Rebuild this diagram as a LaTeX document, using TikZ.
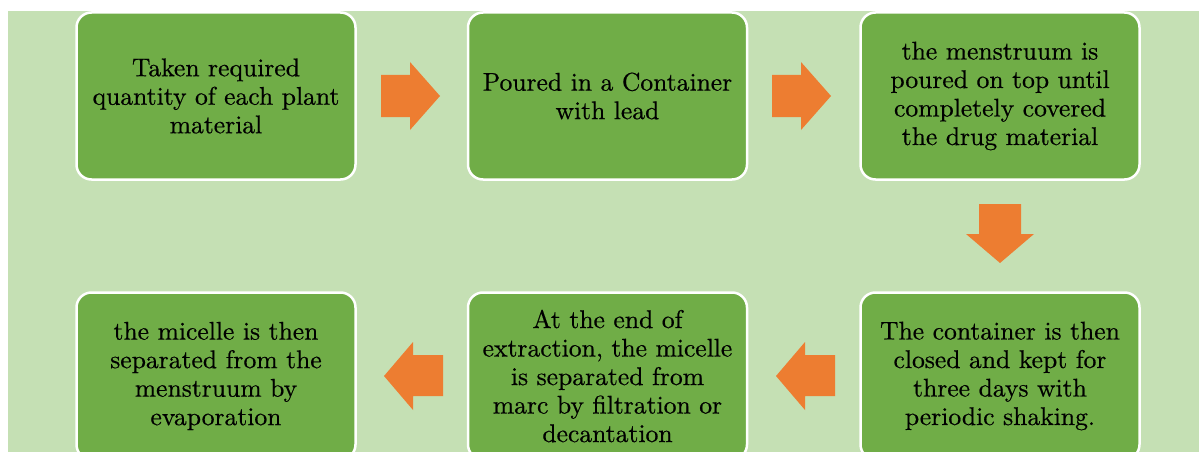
\documentclass[tikz,border=0pt]{standalone}
\usepackage{fontspec}
\newfontfamily\tnr{lmroman10-regular.otf}[FakeBold=0.5]
\definecolor{bgg}{HTML}{C5E0B4}
\definecolor{boxg}{HTML}{70AD47}
\definecolor{arro}{HTML}{ED7D31}
\tikzset{
  stepbox/.style={draw=white, line width=2.5pt, fill=boxg, rounded corners=15pt,
    minimum width=279pt, minimum height=167pt, align=center, inner sep=0pt,
    font=\tnr\fontsize{25.6pt}{28.5pt}\selectfont, text=black},
  blockarrow/.style={fill=arro, draw=none}
}
\begin{document}
\begin{tikzpicture}[x=1pt,y=-1pt]
\useasboundingbox (0,0) rectangle (1199,452);
\clip (0,0) rectangle (1199,452);
\fill[white] (0,0) rectangle (1199,452);
\fill[bgg] (8,11) rectangle (1199,452);
% boxes
\node[stepbox] (b1) at (216,96) {Taken required\\quantity of each plant\\material};
\node[stepbox] (b2) at (607.5,96) {Poured in a Container\\with lead};
\node[stepbox] (b3) at (1000,96) {the menstruum is\\poured on top until\\completely covered\\the drug material};
\node[stepbox] (b6) at (1000,376) {The container is then\\closed and kept for\\three days with\\periodic shaking.};
\node[stepbox] (b5) at (607.5,376) {At the end of\\extraction, the micelle\\is separated from\\marc by filtration or\\decantation};
\node[stepbox] (b4) at (216,376) {the micelle is then\\separated from the\\menstruum by\\evaporation};
% arrows
\fill[blockarrow] (381,75) -- (410,75) -- (410,62) -- (440,96) -- (410,130) -- (410,117) -- (381,117) -- cycle;
\fill[blockarrow] (772,75) -- (801,75) -- (801,62) -- (831,96) -- (801,130) -- (801,117) -- (772,117) -- cycle;
\fill[blockarrow] (979,204) -- (1021,204) -- (1021,234) -- (1034,234) -- (1000,263) -- (966,234) -- (979,234) -- cycle;
\fill[blockarrow] (835,355) -- (805,355) -- (805,342) -- (776,376) -- (805,410) -- (805,396) -- (835,396) -- cycle;
\fill[blockarrow] (443,355) -- (413,355) -- (413,342) -- (384,376) -- (413,410) -- (413,396) -- (443,396) -- cycle;
\end{tikzpicture}
\end{document}
